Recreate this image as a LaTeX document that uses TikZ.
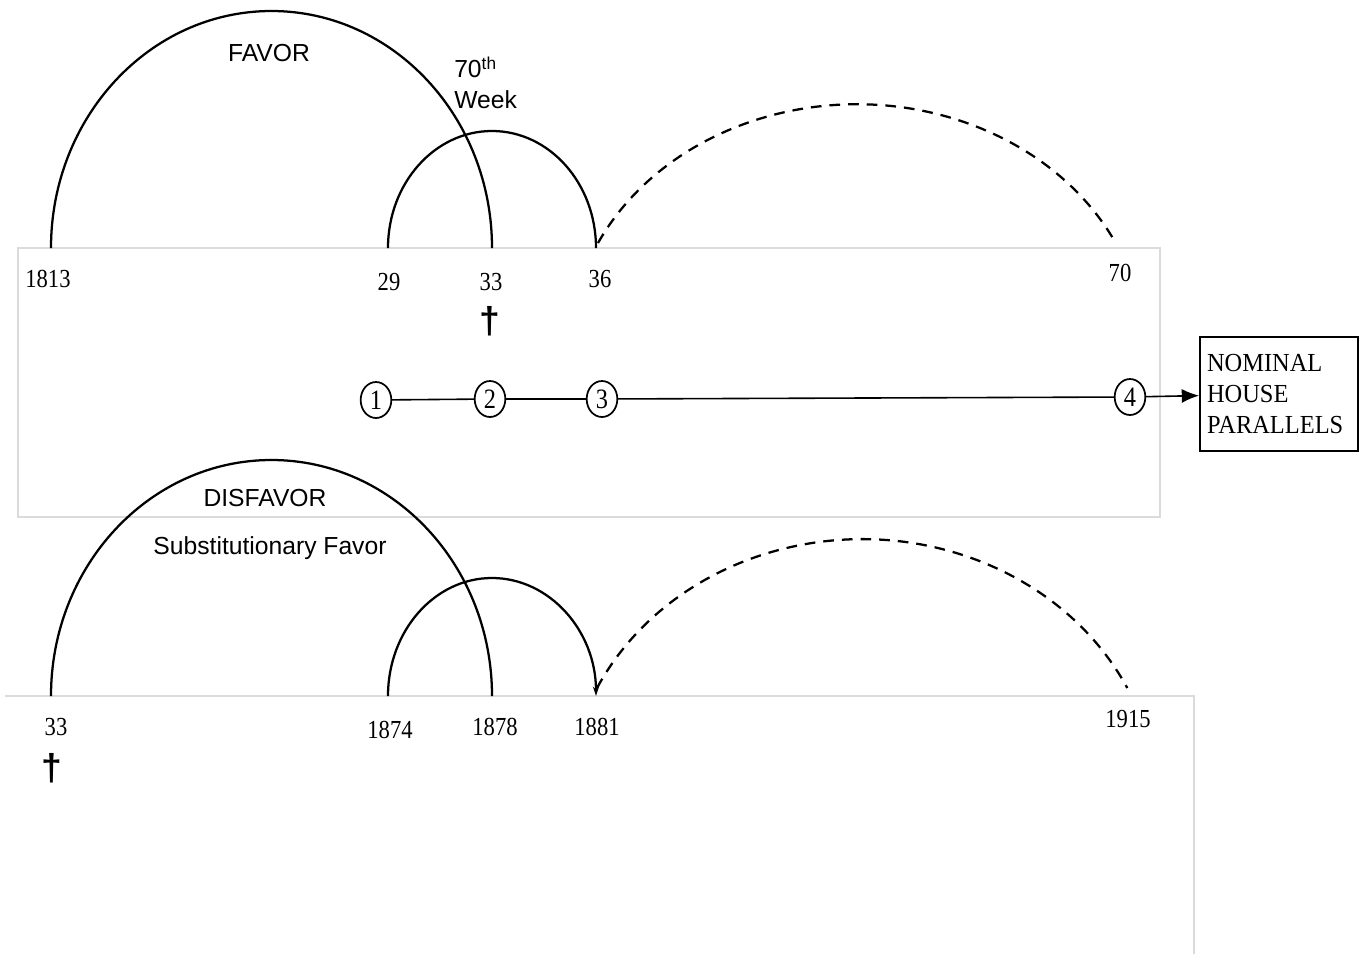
\documentclass[tikz,border=0pt]{standalone}
\usepackage{fontspec}
\setmainfont{Liberation Serif}[FakeStretch=0.87]
\newfontfamily\boxserif{Liberation Serif}[FakeStretch=0.94]
\newfontfamily\labelsans{Liberation Sans}
\newfontfamily\crossfont{Liberation Sans Bold}
\usetikzlibrary{shapes.geometric,arrows.meta}

\begin{document}
\begin{tikzpicture}[x=0.75pt,y=-0.75pt,
  arcline/.style={line width=1.7pt},
  dashline/.style={line width=1.7pt, dash pattern=on 8pt off 6pt},
  frame/.style={draw=black!14, line width=0.8pt},
  year/.style={font=\fontsize{19.5}{22}\selectfont, inner sep=0pt},
  caption/.style={font=\labelsans\fontsize{18.5}{23.25}\selectfont, inner sep=0pt},
  stage/.style={draw, ellipse, line width=1.3pt, minimum width=23pt,
    minimum height=27pt, inner sep=0pt, font=\fontsize{21}{22}\selectfont},
  link/.style={line width=1.2pt},
  crossmark/.style={font=\crossfont\fontsize{28}{30}\selectfont, inner sep=0pt},
  resultbox/.style={draw, line width=1.3pt, text width=108pt, minimum height=85pt,
    inner xsep=5.25pt, inner ysep=4pt, align=left,
    font=\boxserif\fontsize{19.5}{23.25}\selectfont}]

\useasboundingbox (0,0) rectangle (1365,954);

% light frames behind the two timelines
\draw[frame] (18,248) rectangle (1160,517);
\draw[frame] (5,696) -- (1194,696) -- (1194,954);

% ---------- upper timeline ----------
\coordinate (u1813) at (51,248);
\coordinate (u29) at (388,248);
\coordinate (u36s) at (598,243);

\draw[arcline] (u1813) arc[start angle=180, end angle=360, x radius=220.5, y radius=237];
\draw[arcline] (u29) arc[start angle=180, end angle=360, x radius=104, y radius=117];
\draw[dashline] (u36s) arc[start angle=206, end angle=334, x radius=288, y radius=247];

\node[caption] (favor) at (269,53) {FAVOR};
\node[caption, align=left, anchor=west] (week) at (454,83) {70\textsuperscript{th}\\Week};

\node[year] (y1813) at (48,279) {1813};
\node[year] (y29) at (389,282) {29};
\node[year] (y33) at (491,282) {33};
\node[year] (y36) at (600,279) {36};
\node[year] (y70) at (1120,273) {70};
\node[crossmark] (crossA) at (490,321) {†};

% numbered stages
\node[stage] (s1) at (376,400) {1};
\node[stage] (s2) at (490,399) {2};
\node[stage] (s3) at (602,399) {3};
\node[stage] (s4) at (1130,397) {4};
\node[resultbox] (nominal) at (1279,394) {NOMINAL\\HOUSE\\PARALLELS};

\draw[link] (s1) -- (s2);
\draw[link] (s2) -- (s3);
\draw[link] (s3) -- (s4);
\draw[link, -{Latex[length=13pt, width=10.5pt]}] (s4) -- (nominal);

% ---------- lower timeline ----------
\coordinate (l33) at (51,696);
\coordinate (l1874) at (388,696);
\coordinate (l1881s) at (597,688);

\draw[arcline] (l33) arc[start angle=180, end angle=360, x radius=220.5, y radius=236];
\draw[arcline, -{Stealth[length=7pt, width=4.5pt]}] (l1874) arc[start angle=180, end angle=360, x radius=104, y radius=118];
\draw[dashline] (l1881s) arc[start angle=206, end angle=334, x radius=295, y radius=265];

\node[caption] (disfavor) at (265,498) {DISFAVOR};
\node[caption] (subst) at (270,548) {Substitutionary Favor};

\node[year] (z33) at (56,727) {33};
\node[year] (z1874) at (390,730) {1874};
\node[year] (z1878) at (495,727) {1878};
\node[year] (z1881) at (597,727) {1881};
\node[year] (z1915) at (1128,719) {1915};
\node[crossmark] (crossB) at (52,768) {†};

\end{tikzpicture}
\end{document}
